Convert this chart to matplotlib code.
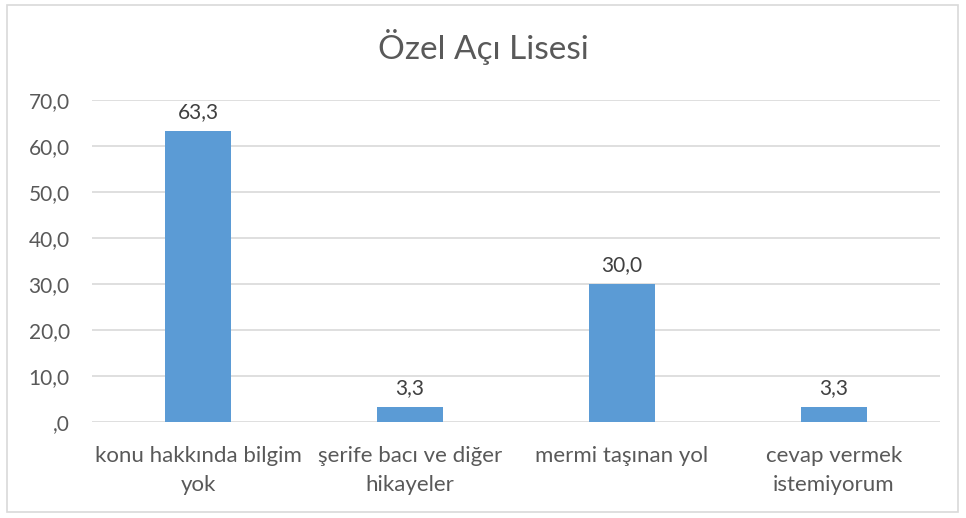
import matplotlib.pyplot as plt
from matplotlib.patches import Rectangle

# data
categories = ['konu hakkında bilgim\nyok', 'şerife bacı ve diğer\nhikayeler',
              'mermi taşınan yol', 'cevap vermek\nistemiyorum']
values = [63.3, 3.3, 30.0, 3.3]
yticks = [0, 10, 20, 30, 40, 50, 60, 70]
ytick_labels = [',0', '10,0', '20,0', '30,0', '40,0', '50,0', '60,0', '70,0']

plt.rcParams['font.family'] = ['Lato', 'DejaVu Sans']

fig = plt.figure(figsize=(9.66, 5.18), dpi=100)
ax = fig.add_axes([0.0952, 0.1853, 0.8778, 0.6217])

x = range(len(categories))
ax.bar(x, values, width=0.31, color='#5B9BD5', zorder=3)
for xi, v in zip(x, values):
    ax.text(xi, v + 2.0, ('%.1f' % v).replace('.', ','), ha='center', va='bottom',
            fontsize=15, color='#404040')

ax.set_xlim(-0.5, len(categories) - 0.5)
ax.set_ylim(0, 70)
ax.set_yticks(yticks)
ax.set_yticklabels(ytick_labels, fontsize=15, color='#595959')
ax.set_xticks(list(x))
ax.set_xticklabels(categories, fontsize=16, color='#595959', linespacing=1.6)
ax.tick_params(length=0)
ax.tick_params(axis='y', pad=16)
ax.tick_params(axis='x', pad=17)
ax.grid(axis='y', color='#D9D9D9', linewidth=1.2, zorder=0)
for s in ax.spines.values():
    s.set_visible(False)

fig.text(0.5, 0.91, 'Özel Açı Lisesi', ha='center', va='center', fontsize=24, color='#595959')

# chart border
fig.patches.append(Rectangle((0.007, 0.012), 0.985, 0.978, transform=fig.transFigure,
                             fill=False, edgecolor='#D9D9D9', linewidth=1.2))

fig.savefig('out.png', dpi=100)
